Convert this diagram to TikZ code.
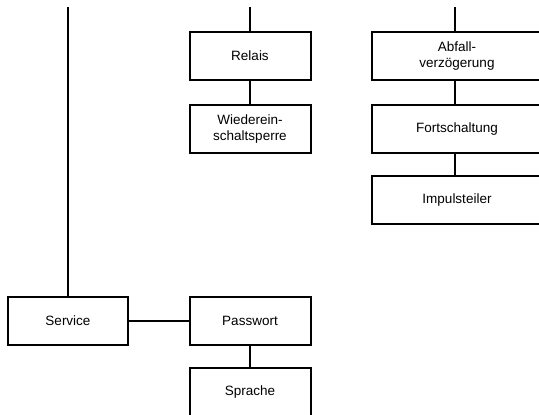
\documentclass[tikz,border=0pt]{standalone}
\usepackage{fontspec}
\setmainfont{Liberation Sans}
\begin{document}
\begin{tikzpicture}[x=1pt,y=-1pt,
  box/.style={draw=black,line width=2pt,rectangle,minimum width=121pt,minimum height=48pt,align=center,font=\fontsize{13.5}{15.5}\selectfont,inner sep=0pt},
  widebox/.style={box,minimum width=170pt},
  conn/.style={draw=black,line width=2pt}]
\clip (0,0) rectangle (539,415);
\fill[white] (0,0) rectangle (539,415);
\node[box] (relais) at (250,56) {Relais};
\node[box] (wieder) at (250,129) {Wiederein-\\schaltsperre};
\node[widebox] (abfall) at (457,56) {Abfall-\\verzögerung};
\node[widebox] (fort) at (457,129) {Fortschaltung};
\node[widebox] (impuls) at (457,200) {Impulsteiler};
\node[box,minimum width=120pt] (service) at (68,321) {Service};
\node[box] (pass) at (250,321) {Passwort};
\node[box] (sprache) at (250,392) {Sprache};
\coordinate (t1) at (68,7);
\coordinate (t2) at (250,7);
\coordinate (t3) at (455,7);
\draw[conn] (t1) -- (t1 |- service.north);
\draw[conn] (t2) -- (relais.north);
\draw[conn] (t3) -- (t3 |- abfall.north);
\draw[conn] (relais) -- (wieder);
\draw[conn] (t3 |- abfall.south) -- (t3 |- fort.north);
\draw[conn] (t3 |- fort.south) -- (t3 |- impuls.north);
\draw[conn] (service) -- (pass);
\draw[conn] (pass) -- (sprache);
\end{tikzpicture}
\end{document}
